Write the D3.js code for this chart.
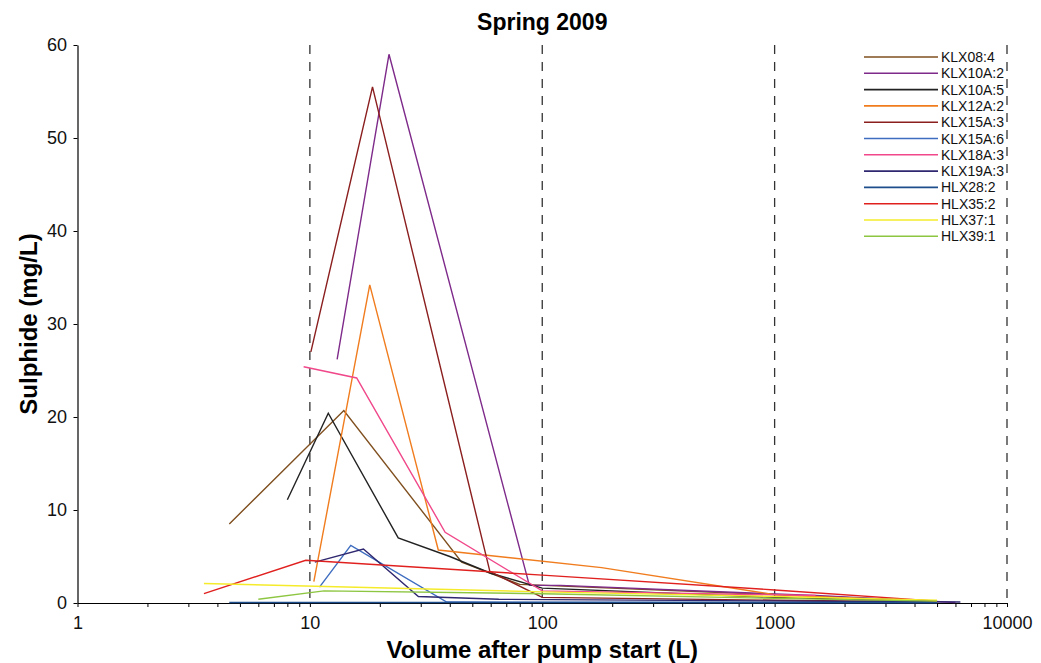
<!DOCTYPE html>
<html>
<head>
<meta charset="utf-8">
<script src="https://cdn.jsdelivr.net/npm/d3@7"></script>
<style>
  body { margin: 0; background: #fff; }
  text { font-family: "Liberation Sans", Arial, sans-serif; }
</style>
</head>
<body>
<div id="chart"></div>
<script>
// Series names, legend order
var seriesNames = ["KLX08:4", "KLX10A:2", "KLX10A:5", "KLX12A:2", "KLX15A:3", "KLX15A:6",
                   "KLX18A:3", "KLX19A:3", "HLX28:2", "HLX35:2", "HLX37:1", "HLX39:1"];
var seriesColors = ["#7f4f1f", "#7e2a8a", "#222222", "#f07c1e", "#8b1e1e", "#3e6dc0",
                    "#f0488a", "#2f2870", "#1f4e8c", "#e0201e", "#f5eb2a", "#8dc641"];

// Volume (L) and sulphide (mg/L) per series
var klx08_4  = [[4.5, 8.5], [14, 20.7], [45, 4.4], [80, 2.0], [1000, 0.9], [5000, 0.2]];
var klx10a_2 = [[13.1, 26.2], [21.9, 59], [88, 1.9], [120, 1.9], [1500, 0.8], [6000, 0.05]];
var klx10a_5 = [[8, 11.1], [12, 20.4], [24, 7.0], [40, 5.0], [60, 3.2], [100, 1.6], [1000, 0.6], [5000, 0.15]];
var klx12a_2 = [[10.4, 2.3], [18.1, 34.2], [35.7, 5.7], [180, 3.8], [1000, 0.9], [5000, 0.1]];
var klx15a_3 = [[10.1, 27], [18.6, 55.5], [59.5, 3.4], [100, 0.6], [1000, 0.3], [5000, 0.1]];
var klx15a_6 = [[11, 1.7], [15, 6.2], [38.8, 0.1], [1000, 0.05], [5000, 0.05]];
var klx18a_3 = [[9.4, 25.4], [15.9, 24.2], [38.2, 7.6], [100, 1.3], [1500, 0.8]];
var klx19a_3 = [[10.5, 4.4], [17, 5.8], [29.3, 0.7], [65, 0.4], [6300, 0.1]];
var hlx28_2  = [[4.5, 0.05], [10, 0.05], [100, 0.05], [1000, 0.05], [5000, 0.05]];
var hlx35_2  = [[3.5, 1.0], [9.6, 4.6], [100, 3.0], [1000, 1.4], [5000, 0.2]];
var hlx37_1  = [[3.5, 2.1], [100, 1.2], [1000, 0.7], [5000, 0.3]];
var hlx39_1  = [[6.0, 0.4], [11.5, 1.3], [100, 1.0], [1000, 0.5], [5000, 0.2]];

var seriesData = [klx08_4, klx10a_2, klx10a_5, klx12a_2, klx15a_3, klx15a_6,
                  klx18a_3, klx19a_3, hlx28_2, hlx35_2, hlx37_1, hlx39_1];

var yTicks = [0, 10, 20, 30, 40, 50, 60];
var xMajor = [1, 10, 100, 1000, 10000];
var dashedAt = [10, 100, 1000, 10000];

var width = 1041;
var height = 663;
var margin = { top: 45, right: 34, bottom: 60, left: 77.5 };

var svg = d3.select("#chart")
            .append("svg")
            .attr("width", width)
            .attr("height", height);

var xScale = d3.scaleLog()
               .domain([1, 10000])
               .range([margin.left, width - margin.right]);

var yScale = d3.scaleLinear()
               .domain([0, 60])
               .range([height - margin.bottom, margin.top]);

// dashed guide lines at each decade
svg.selectAll("line.guide")
   .data(dashedAt)
   .enter()
   .append("line")
   .attr("class", "guide")
   .attr("x1", function(d) { return xScale(d); })
   .attr("x2", function(d) { return xScale(d); })
   .attr("y1", yScale(60))
   .attr("y2", yScale(0))
   .attr("stroke", "#333")
   .attr("stroke-width", 1.3)
   .attr("stroke-dasharray", "9,8");

// x axis with minor log ticks
var xTickVals = [];
for (var p = 0; p < 4; p++) {
  for (var m = 1; m < 10; m++) xTickVals.push(m * Math.pow(10, p));
}
xTickVals.push(10000);

var xAxis = svg.append("g")
   .attr("transform", "translate(0," + yScale(0) + ")")
   .call(d3.axisBottom(xScale)
           .tickValues(xTickVals)
           .tickSize(4)
           .tickSizeOuter(0)
           .tickFormat(function(d) { return xMajor.indexOf(d) >= 0 ? d : ""; }));
xAxis.select(".domain").attr("stroke", "#000").attr("stroke-width", 1.2);
xAxis.selectAll(".tick line").attr("stroke", "#000");
xAxis.selectAll("text").attr("font-size", 18).attr("fill", "#111").attr("dy", "1.05em");

// y axis
var yAxis = svg.append("g")
   .attr("transform", "translate(" + margin.left + ",0)")
   .call(d3.axisLeft(yScale).tickValues(yTicks).tickSize(4).tickSizeOuter(0));
yAxis.select(".domain").attr("stroke", "#000").attr("stroke-width", 1.2);
yAxis.selectAll(".tick line").attr("stroke", "#000");
yAxis.selectAll("text").attr("font-size", 18).attr("fill", "#111").attr("dx", "-0.2em");

// series lines
var line = d3.line()
             .x(function(d) { return xScale(d[0]); })
             .y(function(d) { return yScale(d[1]); });

svg.selectAll("path.series")
   .data(seriesData)
   .enter()
   .append("path")
   .attr("class", "series")
   .attr("d", line)
   .attr("fill", "none")
   .attr("stroke", function(d, i) { return seriesColors[i]; })
   .attr("stroke-width", 1.4);

// legend
var legend = svg.append("g")
                .attr("transform", "translate(864,57)");
var items = legend.selectAll("g")
                  .data(seriesNames)
                  .enter()
                  .append("g")
                  .attr("transform", function(d, i) { return "translate(0," + (i * 16.3) + ")"; });
items.append("line")
     .attr("x1", 0).attr("x2", 74)
     .attr("stroke", function(d, i) { return seriesColors[i]; })
     .attr("stroke-width", 1.6);
items.append("text")
     .attr("x", 77)
     .attr("dy", "0.36em")
     .attr("font-size", 14)
     .attr("fill", "#111")
     .text(function(d) { return d; });

// title and axis titles
svg.append("text")
   .attr("x", (margin.left + width - margin.right) / 2)
   .attr("y", 30)
   .attr("text-anchor", "middle")
   .attr("font-size", 23)
   .attr("font-weight", "bold")
   .text("Spring 2009");

svg.append("text")
   .attr("x", (margin.left + width - margin.right) / 2)
   .attr("y", 658)
   .attr("text-anchor", "middle")
   .attr("font-size", 24)
   .attr("font-weight", "bold")
   .text("Volume after pump start (L)");

svg.append("text")
   .attr("transform", "translate(37," + ((margin.top + height - margin.bottom) / 2) + ") rotate(-90)")
   .attr("text-anchor", "middle")
   .attr("font-size", 24)
   .attr("font-weight", "bold")
   .text("Sulphide (mg/L)");
</script>
</body>
</html>
